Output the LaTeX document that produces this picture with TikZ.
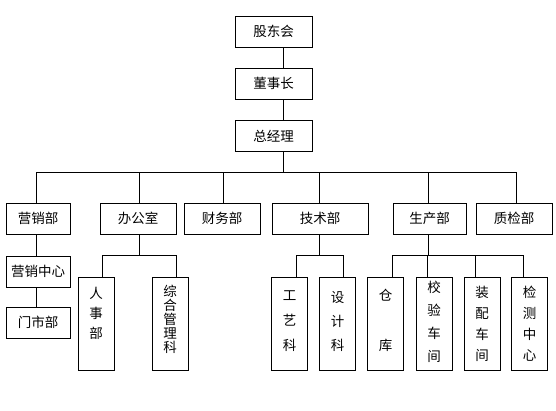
\documentclass[tikz,border=0pt]{standalone}
\usepackage{fontspec}
\newfontfamily\cjk{Noto Sans CJK SC}
\begin{document}
\begin{tikzpicture}[x=1pt,y=-1pt,line width=0.9pt,
  box/.style={draw,rectangle,inner sep=0pt,font=\cjk\fontsize{13.5}{15}\selectfont},
  wbox/.style={box,minimum width=76pt,minimum height=31pt},
  tbox/.style={draw,rectangle,inner sep=0pt,minimum width=36pt,minimum height=93pt},
  vtext/.style={inner sep=0pt,align=center,font=\cjk\fontsize{13.5}{#1}\selectfont},
  vtext/.default=21]
\useasboundingbox (0,0) rectangle (556,410);
% top chain
\node[wbox,minimum width=77pt] (gd) at (273.5,31.5) {股东会};
\node[wbox,minimum width=77pt] (dsz) at (273.5,83.5) {董事长};
\node[wbox,minimum width=77pt] (zjl) at (273.5,136) {总经理};
% level 2
\node[wbox,minimum width=64pt] (yxb) at (38,218.5) {营销部};
\node[wbox] (bgs) at (138,218.5) {办公室};
\node[wbox] (cwb) at (222,218.5) {财务部};
\node[wbox,minimum width=96pt] (jsb) at (320,218.5) {技术部};
\node[wbox,minimum width=73pt] (scb) at (429.5,218.5) {生产部};
\node[wbox] (zjb) at (514,218.5) {质检部};
% marketing chain
\node[wbox,minimum width=64pt] (yxzx) at (38,271.5) {营销中心};
\node[wbox,minimum width=64pt] (mbs) at (38,322.5) {门市部};
% tall boxes
\node[tbox] (rsb) at (96,323.5) {};
\node[tbox] (zhk) at (170,323.5) {};
\node[tbox] (gyk) at (289.5,323.5) {};
\node[tbox] (sjk) at (337.5,323.5) {};
\node[tbox] (ck) at (385.5,323.5) {};
\node[tbox] (jyc) at (434,323.5) {};
\node[tbox] (zpc) at (482,323.5) {};
\node[tbox] (jcz) at (529.5,323.5) {};
\node[vtext=20] (trsb) at ([yshift=10.5pt]rsb.center) {人\\事\\部};
\node[vtext=14] (tzhk) at ([yshift=4pt]zhk.center) {综\\合\\管\\理\\科};
\node[vtext=25] (tgyk) at ([yshift=2.5pt]gyk.center) {工\\艺\\科};
\node[vtext=24] (tsjk) at ([yshift=2.5pt]sjk.center) {设\\计\\科};
\node[vtext=50] (tck) at ([yshift=3.5pt]ck.center) {仓\\库};
\node[vtext=23] (tjyc) at ([yshift=1.5pt]jyc.center) {校\\验\\车\\间};
\node[vtext=21] (tzpc) at ([yshift=-0.5pt]zpc.center) {装\\配\\车\\间};
\node[vtext=21] (tjcz) at ([yshift=-0.5pt]jcz.center) {检\\测\\中\\心};
% coordinates
\coordinate (m) at (283,172);
\coordinate (bl) at (36,172);
\coordinate (br) at (516,172);
\coordinate (b2) at (139,172);
\coordinate (b3) at (223,172);
\coordinate (b4) at (319,172);
\coordinate (b5) at (428,172);
% top connectors
\draw (m |- gd.south) -- (m |- dsz.north);
\draw (m |- dsz.south) -- (m |- zjl.north);
\draw (m |- zjl.south) -- (m);
\draw (bl) -- (br);
\foreach \c/\n in {bl/yxb,b2/bgs,b3/cwb,b4/jsb,b5/scb,br/zjb}
  \draw (\c) -- (\c |- \n.north);
% marketing
\draw (bl |- yxb.south) -- (bl |- yxzx.north);
\draw (bl |- yxzx.south) -- (bl |- mbs.north);
% office
\coordinate (o1) at (102,255);
\coordinate (o2) at (176,255);
\draw (b2 |- bgs.south) -- (b2 |- o1);
\draw (o1) -- (o2);
\draw (o1) -- (o1 |- rsb.north);
\draw (o2) -- (o2 |- zhk.north);
% tech
\coordinate (t1) at (296,255);
\coordinate (t2) at (343,255);
\draw (b4 |- jsb.south) -- (b4 |- t1);
\draw (t1) -- (t2);
\draw (t1) -- (t1 |- gyk.north);
\draw (t2) -- (t2 |- sjk.north);
% production
\coordinate (p1) at (392,255);
\coordinate (p2) at (427,255);
\coordinate (p3) at (475,255);
\coordinate (p4) at (523,255);
\draw (b5 |- scb.south) -- (b5 |- p1);
\draw (p1) -- (p4);
\draw (p1) -- (p1 |- ck.north);
\draw (p2) -- (p2 |- jyc.north);
\draw (p3) -- (p3 |- zpc.north);
\draw (p4) -- (p4 |- jcz.north);
\end{tikzpicture}
\end{document}
